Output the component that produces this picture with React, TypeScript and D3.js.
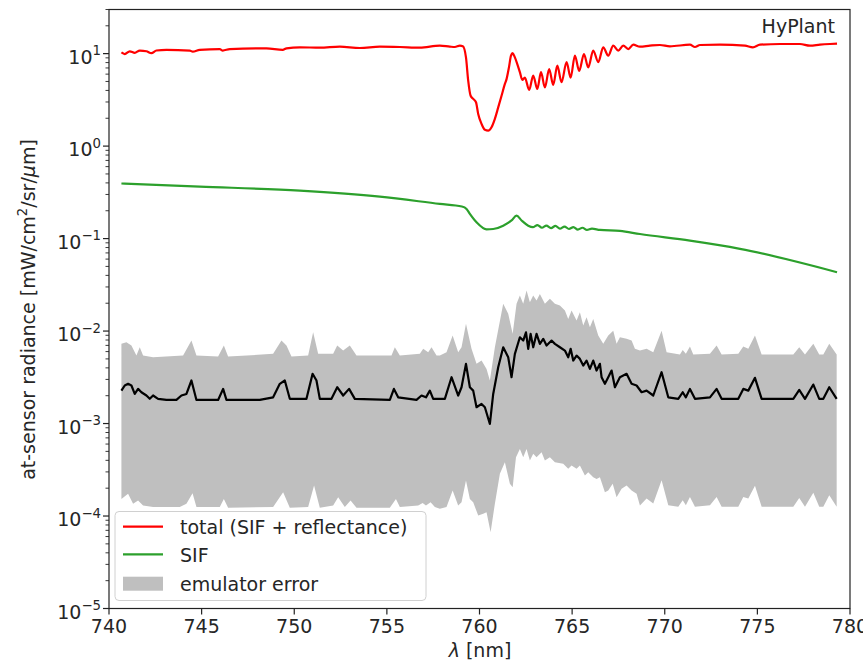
import React from "react";
import * as d3 from "d3";

// wavelength (nm), at-sensor radiance
const totalSeries: [number, number][] = [
  [740.67, 10.3], [740.85, 9.9], [741.12, 10.6], [741.39, 10.2], [741.66, 10.8], [742.02, 10.6],
  [742.29, 10.1], [742.56, 10.8], [743.1, 11.0], [744.36, 10.8], [744.52, 10.5], [744.9, 11.0],
  [745.98, 11.2], [746.14, 10.8], [746.52, 11.2], [748.5, 11.4], [749.38, 11.0], [749.58, 11.4],
  [750.3, 11.7], [751.38, 11.6], [752.46, 11.9], [753.54, 11.5], [754.62, 11.9], [755.7, 11.8],
  [756.78, 11.6], [757.86, 12.2], [758.4, 11.9], [758.67, 11.8], [758.94, 12.2], [759.1, 12.0],
  [759.27, 9.1], [759.39, 5.1], [759.52, 3.5], [759.66, 3.24], [759.81, 2.98], [759.93, 2.23],
  [760.11, 1.74], [760.29, 1.5], [760.47, 1.47], [760.65, 1.6], [760.83, 1.97], [761.01, 2.62],
  [761.19, 3.5], [761.37, 4.7], [761.46, 5.3], [761.59, 7.1], [761.7, 9.5], [761.79, 10.1],
  [761.91, 9.1], [762.04, 7.7], [762.18, 6.3], [762.31, 5.2], [762.45, 5.5], [762.68, 4.05],
  [762.9, 5.8], [763.12, 4.15], [763.32, 6.3], [763.53, 4.3], [763.76, 6.8], [763.98, 4.6],
  [764.2, 7.4], [764.43, 4.9], [764.7, 8.1], [764.92, 5.5], [765.15, 9.5], [765.38, 6.5],
  [765.64, 9.9], [765.87, 7.1], [766.14, 10.8], [766.41, 8.1], [766.68, 11.7], [766.95, 9.5],
  [767.22, 12.2], [767.49, 10.8], [767.76, 12.2], [768.03, 11.2], [768.3, 12.5], [768.66, 11.9],
  [769.2, 12.2], [769.74, 12.4], [770.28, 12.0], [771.36, 12.5], [771.63, 11.8], [771.9, 12.4],
  [772.98, 12.5], [774.33, 12.2], [774.76, 11.7], [775.14, 12.5], [776.22, 12.7], [777.3, 12.7],
  [777.84, 12.2], [778.38, 12.5], [778.92, 12.7], [779.3, 12.8],
];

const sifSeries: [number, number][] = [
  [740.67, 0.394], [744.9, 0.365], [750.3, 0.33], [754.62, 0.284], [757.86, 0.237], [759.05, 0.222],
  [759.3, 0.209], [759.48, 0.185], [759.84, 0.15], [760.38, 0.126], [760.74, 0.127], [761.28, 0.138],
  [761.73, 0.157], [762.0, 0.177], [762.27, 0.157], [762.63, 0.138], [762.88, 0.133], [763.13, 0.14],
  [763.37, 0.131], [763.61, 0.138], [763.86, 0.13], [764.1, 0.137], [764.34, 0.128], [764.59, 0.135],
  [764.83, 0.127], [765.07, 0.133], [765.31, 0.125], [765.56, 0.131], [765.8, 0.124], [766.07, 0.128],
  [766.5, 0.124], [767.58, 0.121], [768.66, 0.112], [771.36, 0.095], [774.06, 0.0775], [779.3, 0.0433],
];

const errorMedian: [number, number][] = [
  [740.67, 2.27e-3], [740.85, 2.58e-3], [741.03, 2.69e-3], [741.21, 2.58e-3], [741.39, 2.09e-3],
  [741.57, 2.37e-3], [741.75, 2.18e-3], [742.02, 2.01e-3], [742.2, 1.85e-3], [742.38, 2.01e-3],
  [742.65, 1.85e-3], [743.1, 1.8e-3], [743.64, 1.8e-3], [743.91, 2.01e-3], [744.18, 2.09e-3],
  [744.45, 2.92e-3], [744.72, 1.8e-3], [745.89, 1.8e-3], [746.16, 2.37e-3], [746.34, 1.8e-3],
  [748.14, 1.8e-3], [748.86, 1.92e-3], [749.22, 2.69e-3], [749.49, 2.92e-3], [749.76, 1.85e-3],
  [750.66, 1.85e-3], [750.99, 3.45e-3], [751.2, 2.92e-3], [751.38, 1.85e-3], [752.01, 1.85e-3],
  [752.32, 2.47e-3], [752.64, 2.01e-3], [752.96, 2.37e-3], [753.27, 1.85e-3], [755.16, 1.8e-3],
  [755.38, 2.37e-3], [755.61, 1.92e-3], [756.6, 1.8e-3], [756.87, 2.01e-3], [757.11, 1.92e-3],
  [757.32, 2.27e-3], [757.5, 1.85e-3], [758.13, 1.85e-3], [758.49, 3.17e-3], [758.85, 2.01e-3],
  [759.03, 2.47e-3], [759.27, 4.42e-3], [759.48, 2.47e-3], [759.66, 2.27e-3], [759.84, 1.5e-3],
  [760.11, 1.63e-3], [760.29, 1.5e-3], [760.56, 0.99e-3], [760.74, 2.09e-3], [761.01, 4.06e-3],
  [761.28, 6.68e-3], [761.55, 5.21e-3], [761.73, 3.17e-3], [761.91, 5.67e-3], [762.18, 8.57e-3],
  [762.36, 7.89e-3], [762.51, 9.7e-3], [762.63, 6.42e-3], [762.76, 9.33e-3], [762.9, 6.68e-3],
  [763.08, 9.33e-3], [763.26, 7.27e-3], [763.44, 8.24e-3], [763.62, 6.97e-3], [763.89, 7.89e-3],
  [764.07, 7.27e-3], [764.34, 6.68e-3], [764.61, 6.15e-3], [764.79, 5.21e-3], [764.92, 6.42e-3],
  [765.06, 4.8e-3], [765.24, 5.43e-3], [765.42, 5.0e-3], [765.6, 4.24e-3], [765.78, 4.8e-3],
  [765.96, 3.9e-3], [766.14, 4.8e-3], [766.32, 3.74e-3], [766.5, 4.42e-3], [766.59, 3.17e-3],
  [766.77, 2.69e-3], [766.95, 3.17e-3], [767.13, 3.74e-3], [767.31, 2.47e-3], [767.58, 3.17e-3],
  [767.94, 3.45e-3], [768.21, 2.69e-3], [768.48, 2.58e-3], [768.75, 2.18e-3], [769.02, 2.27e-3],
  [769.38, 2.01e-3], [769.83, 3.59e-3], [770.19, 1.92e-3], [770.73, 1.85e-3], [770.97, 2.18e-3],
  [771.14, 1.92e-3], [771.36, 2.37e-3], [771.63, 1.85e-3], [772.44, 1.92e-3], [772.8, 2.37e-3],
  [773.07, 1.85e-3], [773.97, 1.85e-3], [774.24, 2.37e-3], [774.51, 2.27e-3], [774.87, 3.12e-3],
  [775.23, 1.85e-3], [776.94, 1.85e-3], [777.26, 2.31e-3], [777.57, 1.85e-3], [778.02, 2.64e-3],
  [778.34, 1.85e-3], [778.56, 1.85e-3], [778.88, 2.47e-3], [779.28, 1.85e-3],
];

const errorUpper: [number, number][] = [
  [740.67, 7.27e-3], [740.94, 7.57e-3], [741.21, 6.97e-3], [741.48, 5.43e-3], [741.66, 6.68e-3],
  [741.84, 5.43e-3], [742.38, 5.21e-3], [744.0, 5.43e-3], [744.45, 7.89e-3], [744.72, 5.43e-3],
  [745.89, 5.3e-3], [746.2, 6.97e-3], [746.43, 5.3e-3], [748.86, 5.67e-3], [749.31, 7.89e-3],
  [749.58, 6.97e-3], [749.85, 5.3e-3], [750.75, 5.43e-3], [751.02, 9.7e-3], [751.29, 5.67e-3],
  [752.1, 5.67e-3], [752.32, 6.97e-3], [752.64, 6.15e-3], [753.0, 6.97e-3], [753.36, 5.43e-3],
  [755.25, 5.43e-3], [755.43, 6.68e-3], [755.7, 5.43e-3], [756.78, 5.67e-3], [756.96, 6.42e-3],
  [757.23, 5.9e-3], [757.41, 6.68e-3], [757.68, 5.43e-3], [757.86, 5.43e-3], [758.22, 5.9e-3],
  [758.55, 8.94e-3], [758.85, 5.9e-3], [759.03, 6.68e-3], [759.27, 1.2e-2], [759.57, 6.42e-3],
  [759.84, 4.42e-3], [760.11, 4.8e-3], [760.38, 3.9e-3], [760.56, 2.92e-3], [760.83, 6.68e-3],
  [761.28, 1.97e-2], [761.55, 1.54e-2], [761.79, 9.33e-3], [762.0, 1.97e-2], [762.18, 2.42e-2],
  [762.36, 1.97e-2], [762.54, 2.74e-2], [762.72, 2.05e-2], [762.9, 2.42e-2], [763.08, 2.14e-2],
  [763.26, 2.52e-2], [763.53, 1.97e-2], [763.8, 2.23e-2], [764.07, 1.97e-2], [764.34, 1.89e-2],
  [764.61, 1.67e-2], [764.79, 1.35e-2], [764.97, 1.67e-2], [765.24, 1.3e-2], [765.42, 1.6e-2],
  [765.6, 1.15e-2], [765.78, 1.41e-2], [765.96, 1.1e-2], [766.14, 1.35e-2], [766.41, 8.94e-3],
  [766.68, 7.27e-3], [766.95, 8.94e-3], [767.22, 1.01e-2], [767.4, 7.27e-3], [767.58, 8.57e-3],
  [767.94, 8.24e-3], [768.21, 7.89e-3], [768.39, 6.42e-3], [768.66, 6.15e-3], [769.02, 6.42e-3],
  [769.38, 5.9e-3], [769.83, 1.01e-2], [770.1, 5.9e-3], [770.82, 5.57e-3], [770.97, 6.26e-3],
  [771.14, 5.67e-3], [771.36, 6.8e-3], [771.54, 5.57e-3], [772.44, 5.67e-3], [772.8, 6.97e-3],
  [773.07, 5.57e-3], [773.97, 5.67e-3], [774.24, 6.8e-3], [774.51, 6.42e-3], [774.87, 8.94e-3],
  [775.23, 5.57e-3], [776.94, 5.57e-3], [777.26, 6.68e-3], [777.57, 5.57e-3], [778.02, 7.27e-3],
  [778.34, 5.57e-3], [778.56, 5.57e-3], [778.88, 7.27e-3], [779.28, 5.57e-3],
];

const errorLower: [number, number][] = [
  [740.67, 1.53e-4], [741.03, 1.74e-4], [741.3, 1.36e-4], [741.57, 1.47e-4], [741.84, 1.3e-4],
  [742.38, 1.25e-4], [743.82, 1.25e-4], [744.18, 1.36e-4], [744.51, 1.76e-4], [744.72, 1.25e-4],
  [745.98, 1.25e-4], [746.2, 1.53e-4], [746.43, 1.23e-4], [748.86, 1.25e-4], [749.4, 1.81e-4],
  [749.76, 1.23e-4], [750.75, 1.25e-4], [751.07, 2.14e-4], [751.38, 1.23e-4], [752.1, 1.3e-4],
  [752.37, 1.6e-4], [752.73, 1.25e-4], [753.04, 1.47e-4], [753.36, 1.23e-4], [755.16, 1.23e-4],
  [755.49, 1.53e-4], [755.7, 1.25e-4], [756.69, 1.3e-4], [756.93, 1.38e-4], [757.11, 1.3e-4],
  [757.36, 1.41e-4], [757.59, 1.25e-4], [757.86, 1.2e-4], [758.22, 1.25e-4], [758.55, 1.89e-4],
  [758.85, 1.3e-4], [759.03, 1.41e-4], [759.27, 2.42e-4], [759.48, 1.53e-4], [759.66, 1.41e-4],
  [759.93, 1.01e-4], [760.2, 1.06e-4], [760.38, 1.1e-4], [760.6, 6.68e-5], [760.83, 1.36e-4],
  [761.1, 2.86e-4], [761.37, 3.82e-4], [761.64, 2.23e-4], [761.79, 2.05e-4], [761.97, 4.32e-4],
  [762.18, 5.32e-4], [762.36, 4.32e-4], [762.54, 5.32e-4], [762.72, 3.98e-4], [762.9, 4.7e-4],
  [763.08, 4.32e-4], [763.35, 4.9e-4], [763.53, 3.98e-4], [763.8, 4.32e-4], [764.07, 3.82e-4],
  [764.52, 3.67e-4], [764.79, 3.24e-4], [764.97, 3.52e-4], [765.24, 3.24e-4], [765.42, 3.52e-4],
  [765.69, 2.74e-4], [765.87, 2.98e-4], [766.14, 2.63e-4], [766.32, 2.52e-4], [766.5, 2.63e-4],
  [766.77, 1.81e-4], [766.95, 1.89e-4], [767.19, 2.23e-4], [767.4, 1.6e-4], [767.67, 1.97e-4],
  [767.94, 2.14e-4], [768.21, 1.89e-4], [768.48, 1.74e-4], [768.66, 1.3e-4], [769.02, 1.55e-4],
  [769.38, 1.37e-4], [769.83, 2.44e-4], [770.19, 1.31e-4], [770.73, 1.26e-4], [770.97, 1.48e-4],
  [771.14, 1.31e-4], [771.36, 1.61e-4], [771.63, 1.26e-4], [772.44, 1.31e-4], [772.8, 1.61e-4],
  [773.07, 1.26e-4], [773.97, 1.26e-4], [774.24, 1.61e-4], [774.51, 1.55e-4], [774.87, 2.12e-4],
  [775.23, 1.26e-4], [776.94, 1.26e-4], [777.26, 1.57e-4], [777.57, 1.26e-4], [778.02, 1.79e-4],
  [778.34, 1.26e-4], [778.56, 1.26e-4], [778.88, 1.68e-4], [779.28, 1.26e-4],
];

const xTicks = [740, 745, 750, 755, 760, 765, 770, 775, 780];
const yDecades = [-5, -4, -3, -2, -1, 0, 1];
const legendItems = [
  { label: "total (SIF + reflectance)", kind: "line", color: "#ff0000" },
  { label: "SIF", kind: "line", color: "#2ca02c" },
  { label: "emulator error", kind: "patch", color: "#bfbfbf" },
];
const panelLabel = "HyPlant";

const FONT = "'DejaVu Sans', sans-serif";
const FS = 19;
const TEXT = "#262626";

export default function App() {
  const left = 109, right = 850, top = 9.5, bottom = 608.5;
  const x = d3.scaleLinear().domain([740, 780]).range([left, right]);
  const y = d3.scaleLog().domain([1e-5, 30]).range([bottom, top]);

  const line = d3
    .line<[number, number]>()
    .x((d) => x(d[0]))
    .y((d) => y(d[1]));
  const smooth = d3
    .line<[number, number]>()
    .x((d) => x(d[0]))
    .y((d) => y(d[1]))
    .curve(d3.curveMonotoneX);

  const bandPts: [number, number][] = [...errorUpper, ...[...errorLower].reverse()];
  const bandPath = (line(bandPts) || "") + "Z";

  const minorTicks: number[] = [];
  yDecades.forEach((d) => {
    for (let k = 2; k <= 9; k++) {
      const v = k * Math.pow(10, d);
      if (v <= 30) minorTicks.push(v);
    }
  });

  const legX = 115, legY = 511.5, legW = 311, legH = 89;
  const rowY = [526.7, 554.3, 583.7];

  return (
    <svg
      width={863}
      height={664}
      style={{ position: "absolute", left: 0, top: 0, background: "#fff" }}
      fontFamily={FONT}
    >
      <rect x={0} y={0} width={863} height={664} fill="#fff" />
      <defs>
        <clipPath id="plotclip">
          <rect x={left} y={top} width={right - left} height={bottom - top} />
        </clipPath>
      </defs>
      <g clipPath="url(#plotclip)">
        <path d={bandPath} fill="#bfbfbf" stroke="none" />
        <path d={line(errorMedian) || ""} fill="none" stroke="#000" strokeWidth={2.2} strokeLinejoin="round" />
        <path d={smooth(sifSeries) || ""} fill="none" stroke="#2ca02c" strokeWidth={2.2} strokeLinejoin="round" />
        <path d={smooth(totalSeries) || ""} fill="none" stroke="#ff0000" strokeWidth={2.2} strokeLinejoin="round" />
      </g>

      {/* spines */}
      <rect x={left} y={top} width={right - left} height={bottom - top} fill="none" stroke="#222" strokeWidth={1.2} />

      {/* x ticks */}
      {xTicks.map((t) => (
        <g key={"x" + t}>
          <line x1={x(t)} x2={x(t)} y1={bottom} y2={bottom + 6} stroke="#222" strokeWidth={1.2} />
          <text x={x(t)} y={633} textAnchor="middle" fontSize={FS} fill={TEXT}>
            {t}
          </text>
        </g>
      ))}

      {/* y ticks */}
      {minorTicks.map((v, i) => (
        <line key={"m" + i} x1={left - 3.5} x2={left} y1={y(v)} y2={y(v)} stroke="#222" strokeWidth={0.9} />
      ))}
      {yDecades.map((d) => {
        const v = Math.pow(10, d);
        const exp = d < 0 ? "\u2212" + Math.abs(d) : String(d);
        return (
          <g key={"y" + d}>
            <line x1={left - 6} x2={left} y1={y(v)} y2={y(v)} stroke="#222" strokeWidth={1.2} />
            <text x={101} y={y(v) + 10} textAnchor="end" fontSize={FS} fill={TEXT}>
              <tspan>10</tspan>
              <tspan dy={-8.3} fontSize={13.3}>
                {exp}
              </tspan>
            </text>
          </g>
        );
      })}

      {/* axis labels */}
      <text x={480} y={657} textAnchor="middle" fontSize={FS} fill={TEXT}>
        <tspan fontStyle="italic">λ</tspan>
        <tspan> [nm]</tspan>
      </text>
      <text transform="translate(35,309.5) rotate(-90)" textAnchor="middle" fontSize={FS} fill={TEXT}>
        <tspan>at-sensor radiance [mW/cm</tspan>
        <tspan dy={-8} fontSize={13.3}>2</tspan>
        <tspan dy={8}>/sr/</tspan>
        <tspan fontStyle="italic">μ</tspan>
        <tspan>m]</tspan>
      </text>

      {/* panel label */}
      <text x={835} y={32.5} textAnchor="end" fontSize={FS} fill={TEXT}>
        {panelLabel}
      </text>

      {/* legend */}
      <rect x={legX} y={legY} width={legW} height={legH} rx={4} fill="#fff" fillOpacity={0.8} stroke="#d0d0d0" strokeWidth={1} />
      {legendItems.map((it, i) => (
        <g key={it.label}>
          {it.kind === "line" ? (
            <line x1={123} x2={163} y1={rowY[i]} y2={rowY[i]} stroke={it.color} strokeWidth={2.2} />
          ) : (
            <rect x={123} y={rowY[i] - 7} width={40} height={14} fill={it.color} />
          )}
          <text x={180} y={rowY[i] + 7.5} fontSize={FS} fill={TEXT}>
            {it.label}
          </text>
        </g>
      ))}
    </svg>
  );
}
